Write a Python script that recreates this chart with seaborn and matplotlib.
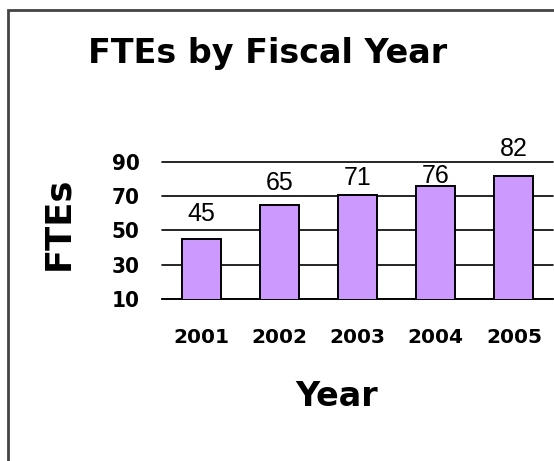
import matplotlib
matplotlib.use("Agg")
import matplotlib.pyplot as plt
import seaborn as sns
import pandas as pd
from matplotlib.patches import Rectangle
from matplotlib import font_manager

years = ["2001", "2002", "2003", "2004", "2005"]
ftes = [45, 65, 71, 76, 82]
y_ticks = [10, 30, 50, 70, 90]
title = "FTEs by Fiscal Year"
x_title = "Year"
y_title = "FTEs"

# label gap above each bar (points) – styling only
label_pad = [13, 11, 7, 2, 14]

sns.set_theme(style="white")
plt.rcParams["font.family"] = ["Liberation Sans", "DejaVu Sans"]
plt.rcParams["text.color"] = "black"
plt.rcParams["xtick.color"] = "black"
plt.rcParams["ytick.color"] = "black"

names = {f.name for f in font_manager.fontManager.ttflist}
cond = ["DejaVu Sans Condensed", "DejaVu Sans"] if "DejaVu Sans Condensed" in names else ["DejaVu Sans"]

W, H = 554, 461
fig = plt.figure(figsize=(W / 100, H / 100), dpi=100)
fig.patch.set_facecolor("white")
ax = fig.add_axes([162 / W, 1 - 299 / H, (553 - 162) / W, 137 / H])

df = pd.DataFrame({"Year": years, "FTEs": ftes})
sns.barplot(data=df, x="Year", y="FTEs", color="#CC99FF", saturation=1,
            width=0.5, edgecolor="black", linewidth=1.4, ax=ax, zorder=3)

ax.set_ylim(10, 90)
ax.set_xlim(-0.5, 4.5)
ax.set_yticks(y_ticks)
ax.yaxis.grid(True, color="black", linewidth=1.2, zorder=0)
ax.set_axisbelow(True)
for gl in ax.get_ygridlines():
    gl.set_clip_on(False)
for s in ["left", "right", "top"]:
    ax.spines[s].set_visible(False)
ax.spines["bottom"].set_color("black")
ax.spines["bottom"].set_linewidth(1.2)
ax.tick_params(axis="both", length=0)
ax.tick_params(axis="y", pad=16)
ax.tick_params(axis="x", pad=21)
ax.set_xlabel("")
ax.set_ylabel("")

for lab in ax.get_yticklabels():
    lab.set_fontfamily(cond)
    lab.set_fontstretch("condensed")
    lab.set_fontweight("bold")
    lab.set_fontsize(16)
for lab in ax.get_xticklabels():
    lab.set_fontfamily(["DejaVu Sans"])
    lab.set_fontweight("bold")
    lab.set_fontsize(14.5)

for bar, v, p in zip(ax.patches, ftes, label_pad):
    ax.annotate(str(v), (bar.get_x() + bar.get_width() / 2, v),
                xytext=(0, p), textcoords="offset points",
                ha="center", va="baseline", fontsize=18, color="black",
                annotation_clip=False)

fig.text(268 / W, 1 - 54 / H, title, ha="center", va="center",
         fontsize=24, fontweight="bold", family=["DejaVu Sans"])
fig.text(58 / W, 1 - 223 / H, y_title, ha="center", va="center",
         rotation=90, fontsize=25.5, fontweight="bold", family=["DejaVu Sans"])
fig.text(337 / W, 1 - 396 / H, x_title, ha="center", va="center",
         fontsize=24, fontweight="bold", family=["DejaVu Sans"])

fig.add_artist(Rectangle((8 / W, -0.1), 1.2, (H - 10) / H + 0.1,
                         transform=fig.transFigure, fill=False,
                         edgecolor="#444444", linewidth=2))

fig.savefig("out.png", dpi=100)
